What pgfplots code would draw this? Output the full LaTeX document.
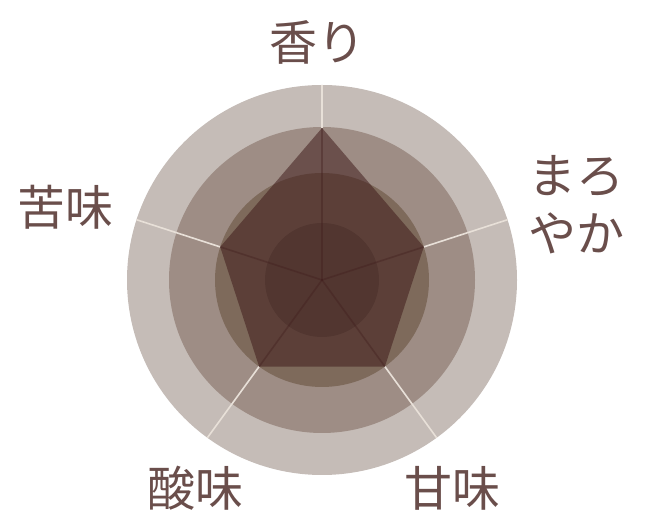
\documentclass[border=0pt]{standalone}
\usepackage{pgfplots}
\pgfplotsset{compat=1.18}
\usepackage{fontspec}
\newfontfamily\cjk{Noto Sans CJK JP}
\definecolor{ringA}{RGB}{197,188,183}
\definecolor{ringB}{RGB}{158,141,133}
\definecolor{ringC}{RGB}{126,106,91}
\definecolor{ringD}{RGB}{105,86,73}
\definecolor{poly}{RGB}{62,26,26}
\definecolor{spokeL}{RGB}{232,224,216}
\definecolor{txt}{RGB}{106,78,75}
\begin{document}
\begin{tikzpicture}
\path[use as bounding box] (0,0) rectangle (650pt,516pt);
\begin{axis}[hide axis, scale only axis, width=390pt, height=390pt,
  xmin=-195, xmax=195, ymin=-195, ymax=195, clip=false,
  at={(322pt,236pt)}, anchor=origin]
% rings
\fill[ringA] (axis cs:0,0) circle[radius=195];
\fill[ringB] (axis cs:0,0) circle[radius=153];
\fill[ringC] (axis cs:0,0) circle[radius=107];
\fill[ringD] (axis cs:0,0) circle[radius=57];
% light spokes outside the polygon
\addplot[spokeL, line width=1.6pt, data cs=polar] coordinates {(90,152) (90,195)};
\addplot[spokeL, line width=1.6pt, data cs=polar] coordinates {(18,107) (18,195)};
\addplot[spokeL, line width=1.6pt, data cs=polar] coordinates {(-54,107) (-54,195)};
\addplot[spokeL, line width=1.6pt, data cs=polar] coordinates {(-126,107) (-126,195)};
\addplot[spokeL, line width=1.6pt, data cs=polar] coordinates {(162,107) (162,195)};
% data polygon
\addplot[draw=none, fill=poly, fill opacity=0.53, data cs=polar]
  coordinates {(90,152) (18,107) (-54,107) (-126,107) (162,107)} -- cycle;
% dark spokes inside the polygon
\addplot[poly, opacity=0.35, line width=1.6pt, data cs=polar] coordinates {(90,0) (90,152)};
\addplot[poly, opacity=0.35, line width=1.6pt, data cs=polar] coordinates {(18,0) (18,107)};
\addplot[poly, opacity=0.35, line width=1.6pt, data cs=polar] coordinates {(-54,0) (-54,107)};
\addplot[poly, opacity=0.35, line width=1.6pt, data cs=polar] coordinates {(-126,0) (-126,107)};
\addplot[poly, opacity=0.35, line width=1.6pt, data cs=polar] coordinates {(162,0) (162,107)};
% labels
\tikzset{lab/.style={text=txt, inner sep=0pt, anchor=center, align=center,
  font=\cjk\fontsize{48}{58}\selectfont}}
\node[lab] at (axis cs:-5,238) {香り};
\node[lab] at (axis cs:254,75) {まろ\\やか};
\node[lab] at (axis cs:-256,73) {苦味};
\node[lab] at (axis cs:-127,-208) {酸味};
\node[lab] at (axis cs:130,-208) {甘味};
\end{axis}
\end{tikzpicture}
\end{document}
